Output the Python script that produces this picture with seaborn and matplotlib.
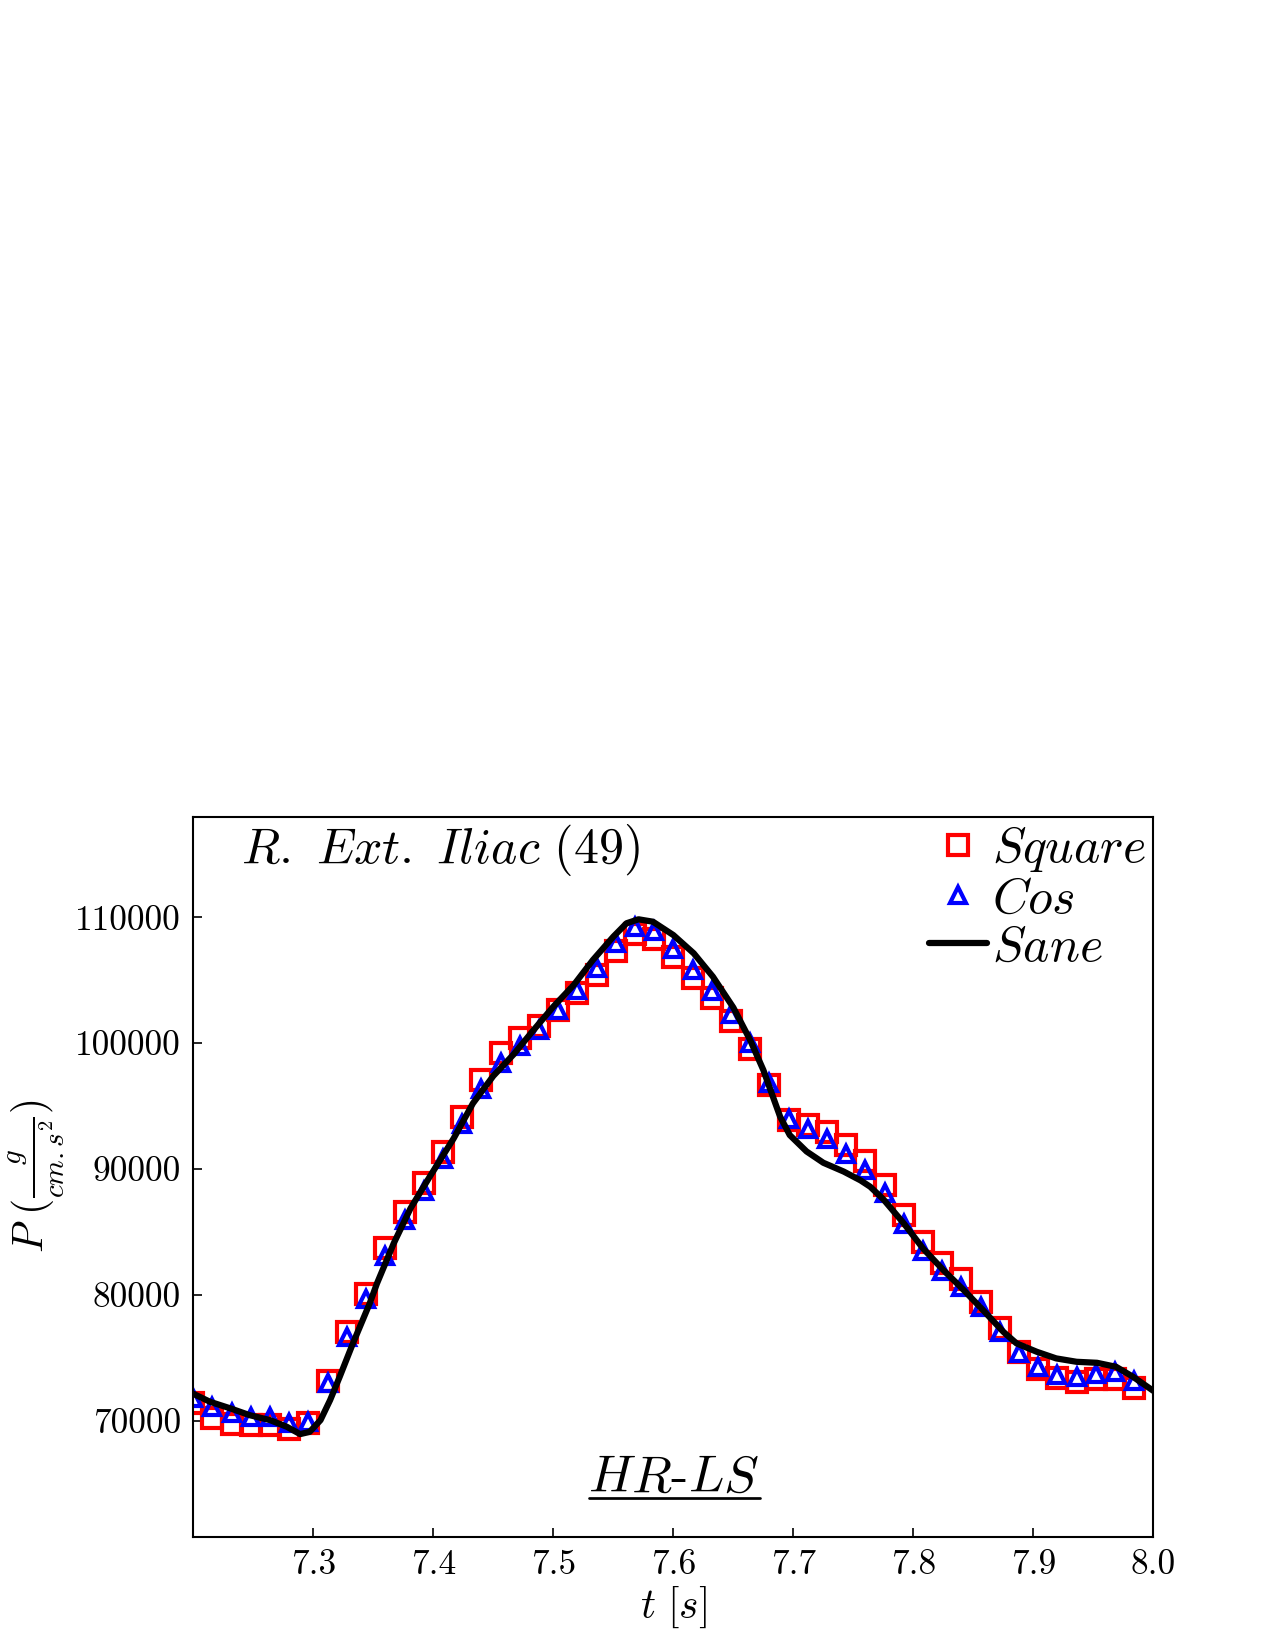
import matplotlib
matplotlib.use("Agg")
import matplotlib.pyplot as plt
import numpy as np
import seaborn as sns
from matplotlib.lines import Line2D

# sample times (every 0.016 s from 7.2)
t_pts = [7.200, 7.216, 7.232, 7.248, 7.264, 7.280, 7.296, 7.312, 7.328, 7.344,
         7.360, 7.376, 7.392, 7.408, 7.424, 7.440, 7.456, 7.472, 7.488, 7.504,
         7.520, 7.536, 7.552, 7.568, 7.584, 7.600, 7.616, 7.632, 7.648, 7.664,
         7.680, 7.696, 7.712, 7.728, 7.744, 7.760, 7.776, 7.792, 7.808, 7.824,
         7.840, 7.856, 7.872, 7.888, 7.904, 7.920, 7.936, 7.952, 7.968, 7.984]

p_square = [71400, 70240, 69760, 69630, 69630, 69390, 69790, 73180, 77020, 80070,
            83750, 86610, 88860, 91330, 94130, 97070, 99180, 100390, 101390, 102640,
            103960, 105420, 107350, 108670, 108280, 106820, 105150, 103560, 101790, 99560,
            96680, 93870, 93470, 92970, 91880, 90640, 88740, 86350, 84180, 82560,
            81240, 79460, 77390, 75460, 74110, 73390, 73050, 73310, 73340, 72600]

p_cos = [71780, 71065, 70590, 70320, 70270, 69840, 69920, 73020, 76630, 79645,
         83090, 85970, 88280, 90770, 93580, 96330, 98450, 99810, 101020, 102640,
         104230, 105950, 107940, 109260, 108940, 107460, 105820, 104170, 102340, 99990,
         96810, 93970, 93180, 92410, 91190, 89950, 88070, 85630, 83510, 81920,
         80600, 79010, 77020, 75360, 74290, 73630, 73450, 73710, 73850, 73180]

t_sane = [7.200, 7.214, 7.231, 7.247, 7.264, 7.278, 7.289, 7.297, 7.306, 7.314,
          7.322, 7.333, 7.347, 7.353, 7.367, 7.381, 7.397, 7.417, 7.433, 7.450,
          7.467, 7.483, 7.500, 7.517, 7.533, 7.550, 7.561, 7.571, 7.583, 7.600,
          7.617, 7.633, 7.650, 7.664, 7.675, 7.682, 7.689, 7.697, 7.711, 7.725,
          7.742, 7.756, 7.764, 7.775, 7.792, 7.808, 7.825, 7.842, 7.858, 7.875,
          7.886, 7.903, 7.919, 7.936, 7.953, 7.969, 7.983, 8.000]
p_sane = [72150, 71510, 70985, 70450, 70055, 69525, 68945, 69125, 70055, 71645,
          73500, 76150, 79330, 80900, 84095, 86877, 89388, 92440, 95220, 97400,
          99120, 100980, 102900, 104620, 106610, 108460, 109525, 109840, 109650, 108590,
          107140, 105280, 102830, 100250, 97870, 96010, 94160, 92700, 91400, 90500,
          89800, 89100, 88600, 87600, 85690, 83700, 81975, 80385, 78800, 77070,
          76150, 75480, 74960, 74690, 74610, 74290, 73500, 72380]

xticks = [7.3, 7.4, 7.5, 7.6, 7.7, 7.8, 7.9, 8.0]
yticks = [70000, 80000, 90000, 100000, 110000]

sns.set_style("ticks", {"xtick.direction": "in", "ytick.direction": "in"})
plt.rcParams.update({
    "font.family": "serif",
    "font.serif": ["cmr10", "DejaVu Serif"],
    "mathtext.fontset": "cm",
    "axes.formatter.use_mathtext": True,
    "axes.linewidth": 1.0,
    "axes.edgecolor": "black",
    "text.color": "black",
    "axes.labelcolor": "black",
    "xtick.color": "black",
    "ytick.color": "black",
})

fig = plt.figure(figsize=(8.5, 11), dpi=150)
ax = fig.add_axes([0.1516, 0.0687, 0.7530, 0.4364])

sns.lineplot(x=t_pts, y=p_square, ax=ax, sort=False, estimator=None,
             linestyle="", marker="s", markersize=10, markerfacecolor="none",
             markeredgecolor="red", markeredgewidth=2.0, label="$Square$")
sns.lineplot(x=t_pts, y=p_cos, ax=ax, sort=False, estimator=None,
             linestyle="", marker="^", markersize=7.5, markerfacecolor="none",
             markeredgecolor="blue", markeredgewidth=2.0, label="$Cos$")
sns.lineplot(x=t_sane, y=p_sane, ax=ax, sort=False, estimator=None,
             color="black", linewidth=3.0, label="$Sane$")

ax.set_xlim(7.2, 8.0)
ax.set_ylim(60800, 118000)
ax.set_xticks(xticks)
ax.set_xticklabels([f"{v:.1f}" for v in xticks])
ax.set_yticks(yticks)
ax.set_yticklabels([str(v) for v in yticks])
ax.tick_params(axis="both", which="both", direction="in", length=4.5, width=0.8,
               labelsize=17, top=False, right=False, pad=6)
ax.grid(False)
for s in ax.spines.values():
    s.set_visible(True)
    s.set_color("black")

ax.set_xlabel("$t\\ [s]$", fontsize=20, labelpad=2)
ax.set_ylabel("$P\\ (\\frac{g}{cm{.}s^2})$", fontsize=20, labelpad=4)

ax.text(0.05, 0.936, "$R.\\ Ext.\\ Iliac\\ (49)$", transform=ax.transAxes,
        fontsize=24, ha="left", va="baseline")
ax.text(0.5, 0.062, "$HR$-$LS$", transform=ax.transAxes, fontsize=25,
        ha="center", va="baseline")
ax.add_line(Line2D([0.412, 0.59], [0.054, 0.054], transform=ax.transAxes,
                   color="black", linewidth=1.3))

leg = ax.legend(loc="upper right", frameon=False, numpoints=1, fontsize=24,
                handlelength=1.15, handletextpad=0.1, labelspacing=0.05,
                borderaxespad=0.05, borderpad=0.1)

fig.savefig("out.png", dpi=150, facecolor="white")
